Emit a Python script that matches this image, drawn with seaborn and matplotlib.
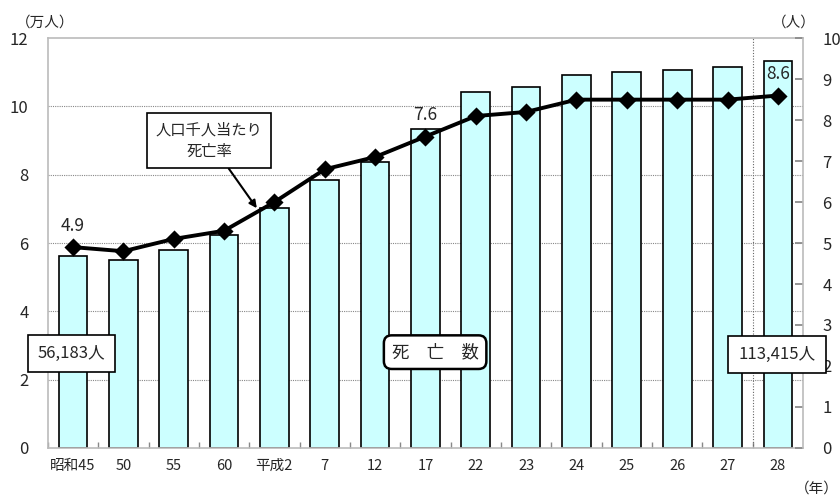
import numpy as np
import pandas as pd
import seaborn as sns
import matplotlib.pyplot as plt

sns.set_theme(style="white")
plt.rcParams['font.family'] = ['Noto Sans CJK JP', 'DejaVu Sans']

# データ
years = ["昭和45", "50", "55", "60", "平成2", "7", "12", "17", "22", "23", "24", "25", "26", "27", "28"]
deaths = [5.62, 5.50, 5.79, 6.23, 7.02, 7.84, 8.36, 9.33, 10.41, 10.56, 10.91, 11.02, 11.08, 11.17, 11.34]  # 万人
rate = [4.9, 4.8, 5.1, 5.3, 6.0, 6.8, 7.1, 7.6, 8.1, 8.2, 8.5, 8.5, 8.5, 8.5, 8.6]  # 人口千人当たり
right_ticks = [0, 1, 2, 3, 4, 5, 6, 7, 8, 9, 10]

df = pd.DataFrame({"year": years, "deaths": deaths, "rate": rate})

fig = plt.figure(figsize=(8.4, 4.96), dpi=100)
ax = fig.add_axes([0.057, 0.097, 0.899, 0.826])

sns.barplot(data=df, x="year", y="deaths", order=years, color="#CCFFFF",
            edgecolor="black", linewidth=1.2, width=0.57, saturation=1, ax=ax, zorder=2)
for p in ax.patches:
    p.set_facecolor("#CCFFFF")

ax.set_ylim(0, 12)
ax.set_xlim(-0.5, 14.5)
ax.set_yticks([0, 2, 4, 6, 8, 10, 12])
ax.set_xlabel("")
ax.set_ylabel("")
for y in [2, 4, 6, 8, 10]:
    ax.axhline(y, color="#888888", linestyle=(0, (1, 1)), linewidth=0.8, zorder=1)
ax.axvline(13.5, color="#666666", linestyle=(0, (1, 1.5)), linewidth=0.8, zorder=1)

for side in ["left", "bottom", "right", "top"]:
    ax.spines[side].set_color("#BBBBBB")
    ax.spines[side].set_linewidth(1.2)
ax.spines["right"].set_visible(False)
ax.tick_params(axis="y", length=0, labelsize=12, pad=14)
ax.tick_params(axis="x", length=0, labelsize=10.5, pad=8)
ax.set_xticks(np.arange(-0.5, 14.5, 1), minor=True)
ax.tick_params(axis="x", which="minor", length=4, direction="in", color="#888888", bottom=True)

ax2 = ax.twinx()
sns.pointplot(data=df, x="year", y="rate", order=years, color="black",
              markers="D", markersize=7.5, linewidth=2.8, ax=ax2)
ax2.set_ylim(0, 10)
ax2.set_xlim(-0.5, 14.5)
ax2.set_yticks(right_ticks)
ax2.set_ylabel("")
ax2.set_xlabel("")
for side in ["left", "bottom", "top"]:
    ax2.spines[side].set_visible(False)
ax2.spines["right"].set_color("#BBBBBB")
ax2.spines["right"].set_linewidth(1.2)
ax2.tick_params(axis="y", direction="in", length=6, color="#888888", labelsize=12, pad=14, right=True)
ax2.grid(False)

# 数値ラベル
for i in [0, 7, 14]:
    ax2.text(i, rate[i] + 0.3, f"{rate[i]:.1f}", ha="center", va="bottom", fontsize=12.5)

# 注記
fig.text(0.054, 0.955, "（万人）", ha="center", va="center", fontsize=10.5)
fig.text(0.945, 0.955, "（人）", ha="center", va="center", fontsize=10.5)
fig.text(0.972, 0.015, "（年）", ha="center", va="center", fontsize=10.5)

box = dict(boxstyle="square,pad=0.6", facecolor="white", edgecolor="black", linewidth=1.2)
fig.text(0.085, 0.288, "56,183人", ha="center", va="center", fontsize=12, bbox=box)
fig.text(0.925, 0.285, "113,415人", ha="center", va="center", fontsize=12, bbox=box)
fig.text(0.518, 0.29, "死　亡　数", ha="center", va="center", fontsize=12.5,
         bbox=dict(boxstyle="round,pad=0.45", facecolor="white", edgecolor="black", linewidth=1.8))

ax2.annotate("人口千人当たり\n死亡率", xy=(3.65, 5.85), xytext=(2.7, 7.5),
             ha="center", va="center", fontsize=11, linespacing=1.3,
             bbox=dict(boxstyle="square,pad=0.55", facecolor="white", edgecolor="black", linewidth=1.2),
             arrowprops=dict(arrowstyle="-|>", color="black", linewidth=1.5, shrinkA=0, shrinkB=0))

fig.savefig("out.png", dpi=100)
